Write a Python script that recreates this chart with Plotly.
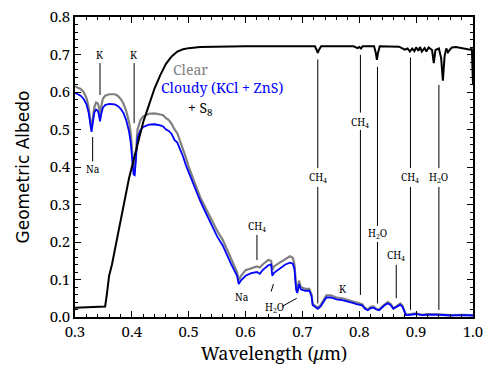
import plotly.graph_objects as go

# wavelength grid (micron) shared by the clear and cloudy models
wl_model = [0.300, 0.305, 0.310, 0.315, 0.320, 0.324, 0.327, 0.329, 0.331, 0.334,
            0.337, 0.340, 0.342, 0.344, 0.346, 0.349, 0.353, 0.360, 0.370, 0.375,
            0.380, 0.385, 0.390, 0.395, 0.398, 0.401, 0.403, 0.405, 0.407, 0.410,
            0.415, 0.420, 0.430, 0.440, 0.450, 0.455, 0.460, 0.465, 0.470, 0.475,
            0.480, 0.485, 0.490, 0.495, 0.500, 0.505, 0.510, 0.520, 0.530, 0.540,
            0.550, 0.560, 0.570, 0.575, 0.580, 0.585, 0.588, 0.592, 0.600, 0.610,
            0.620, 0.625, 0.630, 0.640, 0.645, 0.647, 0.650, 0.660, 0.670, 0.678,
            0.683, 0.686, 0.689, 0.691, 0.694, 0.697, 0.705, 0.712, 0.716, 0.718,
            0.722, 0.727, 0.732, 0.737, 0.742, 0.750, 0.760, 0.770, 0.780, 0.790,
            0.795, 0.800, 0.805, 0.810, 0.815, 0.820, 0.825, 0.830, 0.835, 0.840,
            0.845, 0.850, 0.855, 0.860, 0.865, 0.872, 0.876, 0.880, 0.882, 0.890,
            0.900, 0.910, 0.920, 0.940, 0.960, 0.980, 1.000]

clear_albedo = [0.615, 0.612, 0.608, 0.600, 0.585, 0.560, 0.525, 0.500, 0.525, 0.560,
                0.572, 0.570, 0.560, 0.540, 0.560, 0.582, 0.590, 0.594, 0.594, 0.590,
                0.582, 0.570, 0.550, 0.520, 0.490, 0.440, 0.395, 0.390, 0.440, 0.500,
                0.525, 0.535, 0.542, 0.543, 0.540, 0.538, 0.530, 0.525, 0.515, 0.500,
                0.490, 0.470, 0.450, 0.425, 0.400, 0.380, 0.355, 0.320, 0.290, 0.260,
                0.230, 0.205, 0.170, 0.155, 0.135, 0.120, 0.098, 0.110, 0.125, 0.130,
                0.135, 0.132, 0.140, 0.152, 0.150, 0.125, 0.135, 0.145, 0.155, 0.162,
                0.158, 0.140, 0.080, 0.070, 0.097, 0.080, 0.075, 0.075, 0.060, 0.035,
                0.030, 0.025, 0.032, 0.045, 0.058, 0.058, 0.052, 0.050, 0.046, 0.041,
                0.038, 0.037, 0.034, 0.025, 0.020, 0.027, 0.028, 0.022, 0.020, 0.028,
                0.035, 0.040, 0.035, 0.024, 0.028, 0.036, 0.030, 0.012, 0.006, 0.008,
                0.010, 0.006, 0.008, 0.007, 0.005, 0.006, 0.005]

cloudy_albedo = [0.598, 0.595, 0.590, 0.582, 0.568, 0.545, 0.515, 0.494, 0.515, 0.545,
                 0.553, 0.550, 0.540, 0.522, 0.540, 0.558, 0.565, 0.568, 0.567, 0.563,
                 0.556, 0.545, 0.525, 0.495, 0.465, 0.420, 0.380, 0.378, 0.425, 0.478,
                 0.498, 0.507, 0.513, 0.514, 0.511, 0.508, 0.500, 0.496, 0.488, 0.472,
                 0.465, 0.448, 0.428, 0.405, 0.385, 0.365, 0.345, 0.310, 0.278, 0.248,
                 0.215, 0.190, 0.155, 0.140, 0.125, 0.110, 0.088, 0.098, 0.110, 0.117,
                 0.120, 0.115, 0.125, 0.138, 0.140, 0.110, 0.118, 0.128, 0.140, 0.145,
                 0.142, 0.128, 0.072, 0.064, 0.088, 0.074, 0.070, 0.070, 0.056, 0.032,
                 0.027, 0.022, 0.028, 0.040, 0.052, 0.052, 0.047, 0.045, 0.042, 0.037,
                 0.034, 0.033, 0.031, 0.022, 0.018, 0.024, 0.025, 0.020, 0.018, 0.025,
                 0.032, 0.036, 0.032, 0.022, 0.026, 0.033, 0.027, 0.011, 0.005, 0.006,
                 0.008, 0.005, 0.006, 0.006, 0.004, 0.005, 0.004]

# S8 haze model
wl_s8 = [0.300, 0.350, 0.353, 0.356, 0.360, 0.365, 0.370, 0.375, 0.380, 0.385,
         0.390, 0.395, 0.400, 0.405, 0.410, 0.415, 0.420, 0.430, 0.440, 0.450,
         0.460, 0.470, 0.480, 0.490, 0.500, 0.520, 0.550, 0.600, 0.650, 0.700,
         0.722, 0.725, 0.727, 0.729, 0.733, 0.790, 0.797, 0.800, 0.803, 0.806,
         0.826, 0.829, 0.831, 0.833, 0.836, 0.870, 0.875, 0.880, 0.885, 0.889,
         0.893, 0.897, 0.900, 0.904, 0.907, 0.910, 0.915, 0.918, 0.922, 0.928,
         0.931, 0.934, 0.940, 0.944, 0.947, 0.950, 0.953, 0.956, 0.960, 0.963,
         0.970, 0.980, 0.985, 0.990, 0.995, 0.998, 1.000]
s8_albedo = [0.025, 0.027, 0.028, 0.060, 0.110, 0.140, 0.180, 0.220, 0.250, 0.290,
             0.330, 0.370, 0.400, 0.430, 0.465, 0.495, 0.520, 0.565, 0.610, 0.645,
             0.675, 0.695, 0.708, 0.714, 0.717, 0.720, 0.721, 0.722, 0.722, 0.722,
             0.722, 0.712, 0.704, 0.712, 0.722, 0.722, 0.717, 0.720, 0.716, 0.722,
             0.722, 0.705, 0.686, 0.705, 0.722, 0.721, 0.716, 0.713, 0.716, 0.708,
             0.716, 0.709, 0.719, 0.710, 0.720, 0.708, 0.717, 0.708, 0.719, 0.712,
             0.677, 0.712, 0.716, 0.690, 0.630, 0.695, 0.716, 0.706, 0.714, 0.719,
             0.720, 0.718, 0.716, 0.716, 0.713, 0.716, 0.620]

# feature labels: text, x, label y, line segments (y0, y1)
features = [
    ("Na", 0.331, 0.395, [(0.415, 0.480)]),
    ("K", 0.344, 0.700, [(0.592, 0.677)]),
    ("K", 0.404, 0.700, [(0.517, 0.677)]),
    ("CH<sub>4</sub>", 0.620, 0.241, [(0.152, 0.219)]),
    ("Na", 0.593, 0.054, []),
    ("CH<sub>4</sub>", 0.727, 0.372, [(0.036, 0.347), (0.397, 0.687)]),
    ("K", 0.772, 0.076, []),
    ("CH<sub>4</sub>", 0.802, 0.520, [(0.059, 0.499), (0.545, 0.699)]),
    ("H<sub>2</sub>O", 0.832, 0.222, [(0.036, 0.200), (0.243, 0.667)]),
    ("CH<sub>4</sub>", 0.865, 0.163, [(0.050, 0.139)]),
    ("CH<sub>4</sub>", 0.890, 0.372, [(0.019, 0.347), (0.397, 0.692)]),
    ("H<sub>2</sub>O", 0.940, 0.372, [(0.019, 0.347), (0.397, 0.619)]),
]
# H2O near 0.65 with two slanted pointers
h2o_label = ("H<sub>2</sub>O", 0.650, 0.026)
h2o_pointers = [((0.645, 0.068), (0.649, 0.088)), ((0.664, 0.028), (0.690, 0.050))]

serif = "Noto Serif"

fig = go.Figure()
fig.add_trace(go.Scatter(x=wl_model, y=clear_albedo, mode="lines",
                         line=dict(color="#808080", width=2.2), showlegend=False))
fig.add_trace(go.Scatter(x=wl_model, y=cloudy_albedo, mode="lines",
                         line=dict(color="#0000ff", width=1.8), showlegend=False))
fig.add_trace(go.Scatter(x=wl_s8, y=s8_albedo, mode="lines",
                         line=dict(color="black", width=2), showlegend=False))

for text, x, ly, segs in features:
    fig.add_annotation(x=x, y=ly, text=text, showarrow=False,
                       font=dict(family=serif, size=10, color="black"))
    for y0, y1 in segs:
        fig.add_shape(type="line", x0=x, x1=x, y0=y0, y1=y1,
                      line=dict(color="black", width=1))

fig.add_annotation(x=h2o_label[1], y=h2o_label[2], text=h2o_label[0], showarrow=False,
                   font=dict(family=serif, size=10, color="black"))
for (xa, ya), (xb, yb) in h2o_pointers:
    fig.add_shape(type="line", x0=xa, y0=ya, x1=xb, y1=yb,
                  line=dict(color="black", width=1))

# model labels
fig.add_annotation(x=0.468, y=0.660, text="Clear", showarrow=False, xanchor="left",
                   font=dict(family=serif, size=14, color="#808080"))
fig.add_annotation(x=0.448, y=0.611, text="Cloudy (KCl + ZnS)", showarrow=False, xanchor="left",
                   font=dict(family=serif, size=14, color="#0000ff"))
fig.add_annotation(x=0.495, y=0.556, text="+ S<sub>8</sub>", showarrow=False, xanchor="left",
                   font=dict(family=serif, size=14, color="black"))

axis_common = dict(showline=True, linecolor="black", linewidth=1.5, mirror="allticks",
                   ticks="inside", ticklen=6, tickwidth=1, tickcolor="black",
                   showgrid=False, zeroline=False, automargin=False,
                   ticklabeloverflow="allow",
                   tickfont=dict(family=serif, size=15, color="black"),
                   minor=dict(ticks="inside", ticklen=3, tickwidth=1, tickcolor="black",
                              dtick=0.02, showgrid=False))

fig.update_xaxes(range=[0.3, 1.0], dtick=0.1, tick0=0.3, tickformat=".1f",
                 title=dict(text="Wavelength (<i>μ</i>m)", standoff=6,
                            font=dict(family=serif, size=18, color="black")),
                 **axis_common)
fig.update_yaxes(range=[0.0, 0.8], dtick=0.1, tickformat=".1f",
                 title=dict(text="Geometric Albedo", standoff=16,
                            font=dict(family="DejaVu Sans", size=17, color="black")),
                 **axis_common)

fig.update_layout(width=498, height=374, margin=dict(l=75, r=25, t=17, b=57),
                  plot_bgcolor="white", paper_bgcolor="white", showlegend=False)

# drop the page's default body margin so the figure sits at the window corner
fig.write_html("out.html", config={"displayModeBar": False},
               post_script="document.body.style.margin='0';")
